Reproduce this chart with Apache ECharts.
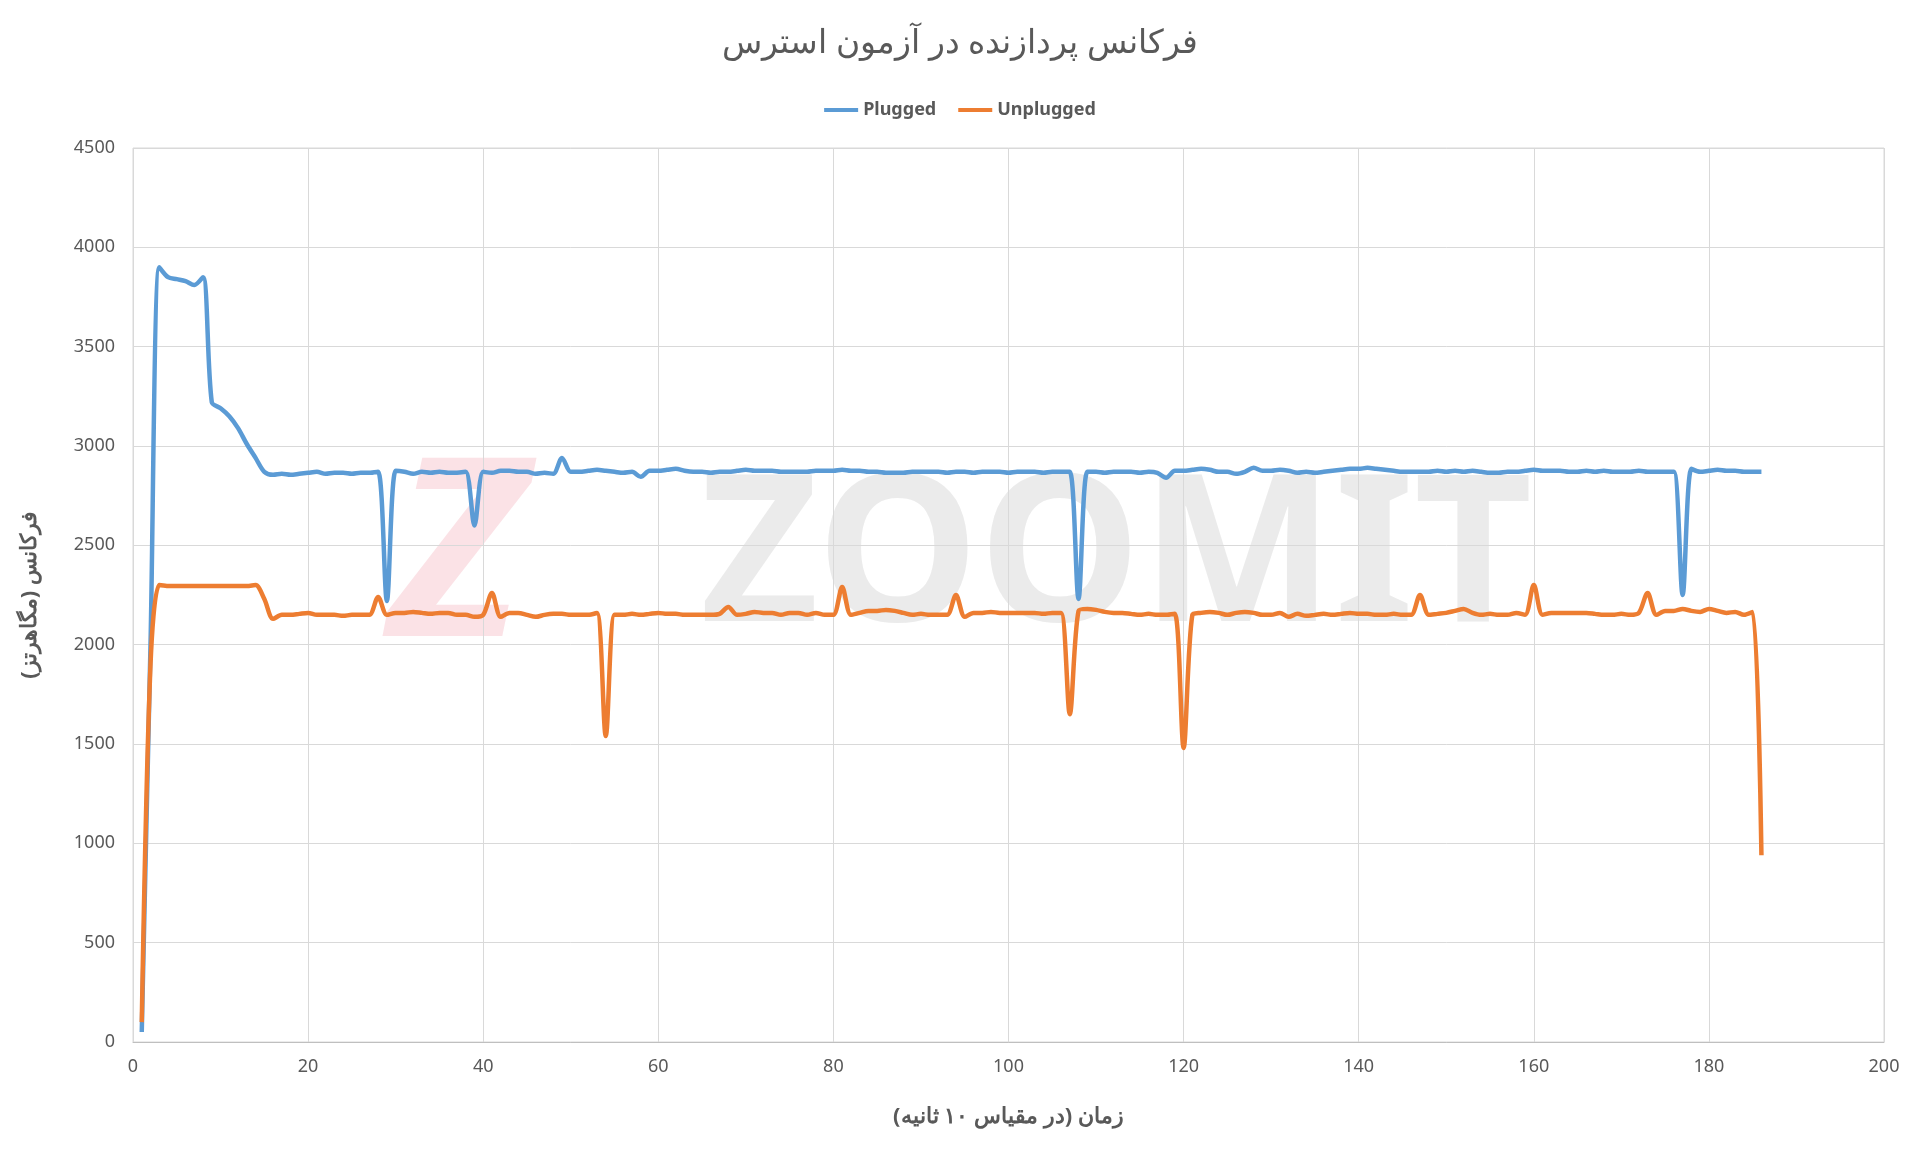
<!DOCTYPE html>
<html><head><meta charset="utf-8">
<script src="https://cdn.jsdelivr.net/npm/echarts@6/dist/echarts.min.js"></script>
<style>html,body{margin:0;padding:0;background:#fff}#c{width:1920px;height:1153px}</style>
</head><body><div id="c"></div>
<script>
const xValues = Array.from({length:186},(_, i)=>i+1);
const yTicks = [0,500,1000,1500,2000,2500,3000,3500,4000,4500];
const plugged = [
50,2000,3900,3850,3840,3830,3810,3850,3220,3190,
3150,3090,3010,2940,2870,2855,2860,2855,2860,2865,
2870,2860,2865,2865,2860,2865,2865,2870,2220,2875,
2870,2860,2870,2865,2870,2865,2865,2870,2600,2870,
2865,2875,2875,2870,2870,2860,2865,2860,2940,2870,
2870,2875,2880,2875,2870,2865,2870,2845,2875,2875,
2880,2885,2875,2870,2870,2865,2870,2870,2875,2880,
2875,2875,2875,2870,2870,2870,2870,2875,2875,2875,
2880,2875,2875,2870,2870,2865,2865,2865,2870,2870,
2870,2870,2865,2870,2870,2865,2870,2870,2870,2865,
2870,2870,2870,2865,2870,2870,2870,2230,2870,2870,
2865,2870,2870,2870,2865,2870,2865,2840,2875,2875,
2880,2885,2880,2870,2870,2860,2870,2890,2875,2875,
2880,2875,2865,2870,2865,2870,2875,2880,2885,2885,
2890,2885,2880,2875,2870,2870,2870,2870,2875,2870,
2875,2870,2875,2870,2865,2865,2870,2870,2875,2880,
2875,2875,2875,2870,2870,2875,2870,2875,2870,2870,
2870,2875,2870,2870,2870,2870,2250,2885,2870,2875,
2880,2875,2875,2870,2870,2870];
const unplugged = [
100,1900,2300,2295,2295,2295,2295,2295,2295,2295,
2295,2295,2295,2300,2230,2130,2150,2150,2155,2160,
2150,2150,2150,2145,2150,2150,2150,2240,2150,2160,
2160,2165,2160,2155,2160,2160,2150,2150,2140,2150,
2260,2140,2160,2160,2150,2140,2150,2155,2155,2150,
2150,2150,2160,1540,2150,2150,2155,2150,2155,2160,
2155,2155,2150,2150,2150,2150,2155,2190,2150,2155,
2165,2160,2160,2150,2160,2160,2150,2160,2150,2150,
2290,2150,2160,2170,2170,2175,2170,2160,2150,2155,
2150,2150,2150,2250,2140,2160,2160,2165,2160,2160,
2160,2160,2160,2155,2160,2160,1650,2170,2180,2175,
2165,2160,2160,2155,2150,2155,2150,2150,2155,1480,
2150,2160,2165,2160,2150,2160,2165,2160,2150,2150,
2160,2140,2155,2145,2150,2155,2150,2155,2160,2155,
2155,2150,2150,2155,2150,2150,2250,2150,2155,2160,
2170,2180,2160,2150,2155,2150,2150,2160,2150,2300,
2150,2160,2160,2160,2160,2160,2155,2150,2150,2155,
2150,2160,2260,2150,2170,2170,2180,2170,2165,2180,
2170,2160,2165,2150,2165,940];
const chart = echarts.init(document.getElementById('c'));
const F = '"Noto Sans", sans-serif';
chart.setOption({
  animation:false,
  backgroundColor:'#fff',
  title:{text:'فرکانس پردازنده در آزمون استرس',left:'center',top:22,textStyle:{fontFamily:F,fontSize:33,fontWeight:'normal',color:'#595959'}},
  legend:{top:96,left:'center',itemWidth:34,itemHeight:4,itemGap:22,icon:'rect',textStyle:{fontFamily:F,fontSize:18,fontWeight:'bold',color:'#595959'},data:['Plugged','Unplugged']},
  graphic:[
    {type:'text',left:700,top:460,z:0,style:{text:'ZOOMIT',font:'bold 205px "Noto Sans", sans-serif',fill:'rgba(205,205,205,0.4)'}},
    {type:'text',left:390,top:440,z:0,style:{text:'Z',font:'italic bold 250px "Noto Sans", sans-serif',fill:'rgba(240,150,165,0.28)'}}
  ],
  grid:{left:133,right:36,top:148,bottom:111,show:true,borderColor:'#d9d9d9',borderWidth:1},
  xAxis:{type:'value',min:0,max:200,interval:20,name:'زمان (در مقیاس ۱۰ ثانیه)',nameLocation:'middle',nameGap:64,
    nameTextStyle:{fontFamily:F,fontSize:22,fontWeight:'bold',color:'#595959'},
    axisLine:{lineStyle:{color:'#bfbfbf'}},axisTick:{show:false},
    axisLabel:{fontFamily:F,fontSize:18,color:'#595959',margin:16},
    splitLine:{lineStyle:{color:'#d9d9d9'}}},
  yAxis:{type:'value',min:0,max:4500,interval:500,name:'فرکانس (مگاهرتز)',nameLocation:'middle',nameGap:92,nameRotate:90,
    nameTextStyle:{fontFamily:F,fontSize:22,fontWeight:'bold',color:'#595959'},
    axisLine:{show:false},axisTick:{show:false},
    axisLabel:{fontFamily:F,fontSize:18,color:'#595959',margin:18,formatter:v=>String(v)},
    splitLine:{lineStyle:{color:'#d9d9d9'}}},
  series:[
    {name:'Plugged',type:'line',smooth:0.3,showSymbol:false,data:xValues.map((x,i)=>[x,plugged[i]]),lineStyle:{width:4.5,color:'#5b9bd5'},itemStyle:{color:'#5b9bd5'},z:3},
    {name:'Unplugged',type:'line',smooth:0.3,showSymbol:false,data:xValues.map((x,i)=>[x,unplugged[i]]),lineStyle:{width:4.5,color:'#ed7d31'},itemStyle:{color:'#ed7d31'},z:3}
  ]
});
</script></body></html>
